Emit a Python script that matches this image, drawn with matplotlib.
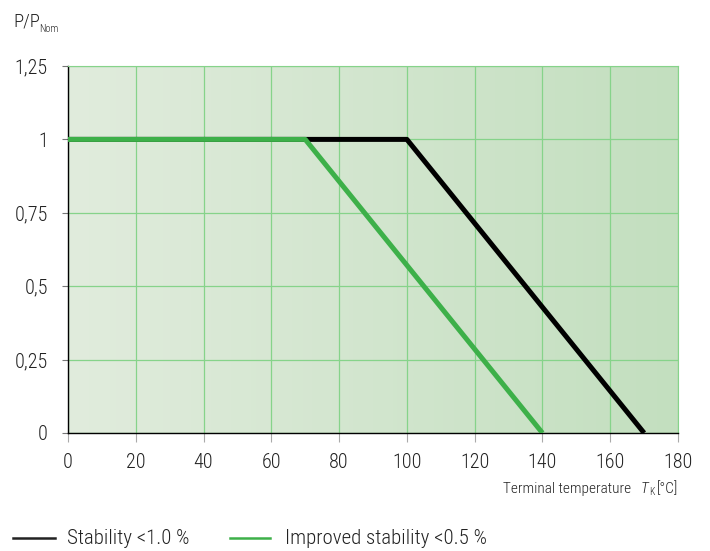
import numpy as np
import matplotlib
matplotlib.use("Agg")
import matplotlib.pyplot as plt
from matplotlib.colors import LinearSegmentedColormap

temp_std = [0, 100, 170]
power_std = [1, 1, 0]
temp_imp = [0, 70, 140]
power_imp = [1, 1, 0]
xticks = [0, 20, 40, 60, 80, 100, 120, 140, 160, 180]
yticks = [0, 0.25, 0.5, 0.75, 1, 1.25]
ytick_labels = ["0", "0,25", "0,5", "0,75", "1", "1,25"]

plt.rcParams['font.family'] = ["Roboto Condensed", "DejaVu Sans"]
plt.rcParams['font.stretch'] = 'condensed'
plt.rcParams['font.weight'] = 'light'

fig = plt.figure(figsize=(7.1, 5.51), dpi=100)
ax = fig.add_axes([68/710, 1-433/551, 610/710, 367/551])

cmap = LinearSegmentedColormap.from_list("g", ["#e1ecdd", "#c3dfbf"])
grad = np.linspace(0, 1, 256).reshape(1, -1)
ax.imshow(grad, cmap=cmap, aspect="auto", extent=[0, 180, 0, 1.25], zorder=0)

ax.set_xlim(0, 180)
ax.set_ylim(0, 1.25)
ax.set_xticks(xticks)
ax.set_yticks(yticks)
ax.set_yticklabels(ytick_labels)
ax.grid(True, color="#86d38a", lw=0.9, zorder=1)
ax.tick_params(axis="both", labelsize=14.5, labelcolor="#222222", width=0.8)
ax.tick_params(axis="x", color="#aaaaaa", length=6.5, pad=8)
ax.tick_params(axis="y", color="#777777", length=4.5, pad=10)
for s in ["top", "right"]:
    ax.spines[s].set_color("#86d38a")
for s in ["left", "bottom"]:
    ax.spines[s].set_color("black")
    ax.spines[s].set_linewidth(1.0)

ax.plot(temp_std, power_std, color="black", lw=3.6, zorder=3, solid_capstyle="butt")
ax.plot(temp_imp, power_imp, color="#3db049", lw=3.6, zorder=4, solid_capstyle="butt")

fig.text(13/710, 1-22/551, "P/P", fontsize=13.5, color="#222222", va="center", ha="left")
fig.text(39/710, 1-29/551, "Nom", fontsize=7.5, color="#222222", va="center", ha="left")

# x label pieces, right aligned at axis right edge
fig.text(678/710, 1-489/551, "[°C]", fontsize=11, color="#222222", ha="right", va="center")
fig.text(654/710, 1-492/551, "K", fontsize=7, color="#222222", ha="right", va="center")
fig.text(648/710, 1-489/551, "T", fontsize=11, style="italic", color="#222222", ha="right", va="center")
fig.text(631/710, 1-489/551, "Terminal temperature", fontsize=11, color="#222222", ha="right", va="center")

# legend
fig.add_artist(plt.Line2D([13/710, 55/710], [1-538/551]*2, color="#222222", lw=1.8))
fig.text(67/710, 1-538/551, "Stability <1.0 %", fontsize=15, color="#222222", va="center")
fig.add_artist(plt.Line2D([230/710, 270/710], [1-538/551]*2, color="#3db049", lw=1.8))
fig.text(285/710, 1-538/551, "Improved stability <0.5 %", fontsize=15, color="#222222", va="center")

fig.savefig("out.png", dpi=100)
